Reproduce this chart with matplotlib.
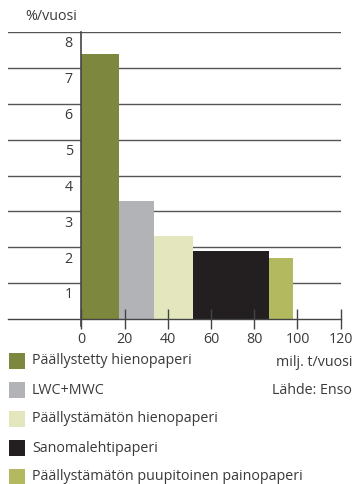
import numpy as np
import matplotlib
matplotlib.use("Agg")
import matplotlib.pyplot as plt
from matplotlib.patches import Rectangle

categories = ["Päällystetty hienopaperi", "LWC+MWC", "Päällystämätön hienopaperi",
              "Sanomalehtipaperi", "Päällystämätön puupitoinen painopaperi"]
volumes = [17.6, 15.9, 18.0, 35.4, 11.1]      # milj. t/vuosi (bar widths)
growth = [7.4, 3.3, 2.3, 1.9, 1.7]            # %/vuosi (bar heights)
colors = ["#7d873e", "#b2b3b7", "#e4e7be", "#231f20", "#b2b95e"]
x_ticks = [0, 20, 40, 60, 80, 100, 120]
y_ticks = [1, 2, 3, 4, 5, 6, 7, 8]

plt.rcParams['font.family'] = ['Open Sans', 'DejaVu Sans']
txt = "#3a3a3a"
FS = 10.3

fig = plt.figure(figsize=(3.53, 4.84), dpi=100)
W, H = 353, 484
ax = fig.add_axes([8 / W, (H - 319) / H, (340.7 - 8) / W, (319 - 32) / H])
ax.set_xlim(-34, 120)
ax.set_ylim(0, 8)

lefts = np.concatenate([[0], np.cumsum(volumes)[:-1]])
ax.bar(lefts, growth, width=volumes, align='edge', color=colors, zorder=1, linewidth=0)

for v in y_ticks:
    ax.axhline(v, color="#555555", lw=1.0, zorder=0.5)

for s in ["top", "left", "right"]:
    ax.spines[s].set_visible(False)
ax.spines["bottom"].set_color("#444444")
ax.spines["bottom"].set_linewidth(1.0)

ax.axvline(0, ymin=-0.025, ymax=1, color="#444444", lw=1.2, clip_on=False, zorder=3)

ax.set_xticks(x_ticks)
ax.set_xticklabels([str(t) for t in x_ticks], fontsize=FS, color=txt)
ax.tick_params(axis='x', direction='inout', length=15, width=1.0, color="#444444", pad=2)
ax.set_yticks([])

for v in y_ticks:
    ax.text(-4.0, v - 0.33, str(v), ha='right', va='center', fontsize=FS, color=txt)

fig.text(25 / W, 1 - 17 / H, "%/vuosi", ha='left', va='center', fontsize=FS, color=txt)
fig.text(352 / W, 1 - 362 / H, "milj. t/vuosi", ha='right', va='center', fontsize=FS, color=txt)
fig.text(352 / W, 1 - 390 / H, "Lähde: Enso", ha='right', va='center', fontsize=FS, color=txt)

rows = [361, 390, 419, 448, 477]
for cat, col, yc in zip(categories, colors, rows):
    fig.patches.append(Rectangle((9 / W, 1 - (yc + 8) / H), 16 / W, 16 / H,
                                 transform=fig.transFigure, color=col, linewidth=0))
    fig.text(32 / W, 1 - yc / H, cat, ha='left', va='center', fontsize=FS, color=txt)

fig.savefig("out.png", dpi=100)
